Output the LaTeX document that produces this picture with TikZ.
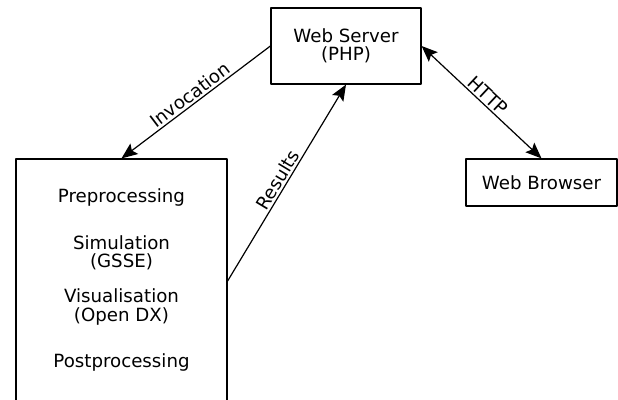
\documentclass[tikz,border=0pt]{standalone}
\usepackage{fontspec}
\setmainfont{DejaVu Sans}
\usetikzlibrary{arrows.meta}
\begin{document}
\begin{tikzpicture}[x=1pt, y=-1pt, line width=1.2pt, line join=round, font=\fontsize{18.2}{18.5}\selectfont,
    >={Stealth[length=16pt, width=13pt, inset=3pt]},
    box/.style={draw, rectangle, inner sep=0pt, align=center},
    lbl/.style={sloped, above, inner sep=2pt}]
    \useasboundingbox (0,0) rectangle (618,399);
    \node[box, minimum width=150pt, minimum height=76pt] (server) at (346,46) {Web Server\\(PHP)};
    \node[box, minimum width=151pt, minimum height=47pt] (browser) at (541.5,182.5) {Web Browser};
    \node[box, minimum width=211pt, minimum height=244pt] (engine) at (121.5,281) {};
    \node (pre) at (121.5,197) {Preprocessing};
    \node[align=center] (sim) at (121.5,253) {Simulation\\(GSSE)};
    \node[align=center] (vis) at (121.5,307) {Visualisation\\(Open DX)};
    \node (post) at (121.5,362) {Postprocessing};
    \draw[->] (server.west) -- (engine.north) node[lbl, midway] {Invocation};
    \draw[->] (engine.east) -- (server.south) node[lbl, midway, xshift=-2pt] {Results};
    \draw[<->] (server.east) -- (browser.north) node[lbl, midway] {HTTP};
\end{tikzpicture}
\end{document}
